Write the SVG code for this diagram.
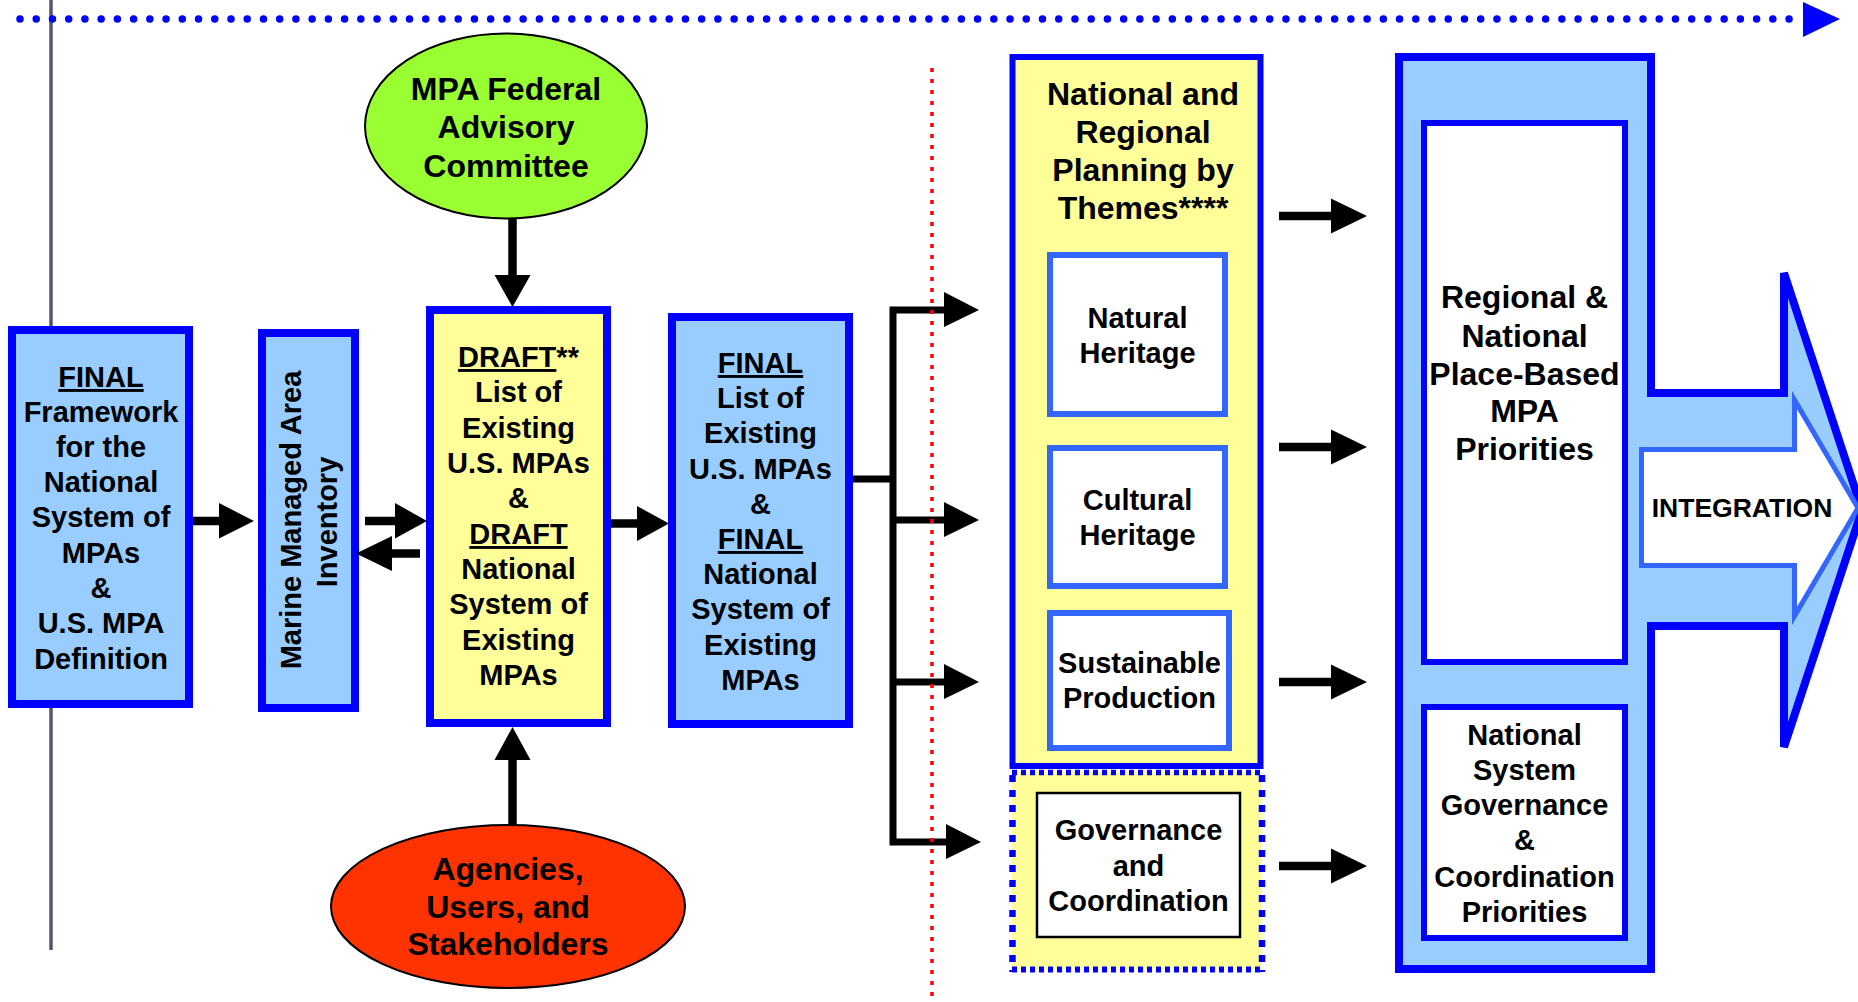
<svg xmlns="http://www.w3.org/2000/svg" width="1858" height="1002" viewBox="0 0 1858 1002">
<style>
text{font-family:"Liberation Sans",Arial,sans-serif;font-weight:bold;fill:#000;text-anchor:middle}
.t29{font-size:29px}
.t32{font-size:32px}
.box{stroke:#0000ff;stroke-width:8}
.lb{fill:#99ccff}
.yl{fill:#ffff99}
.inner{fill:#fff;stroke:#3366ff;stroke-width:6}
.inner2{fill:#fff;stroke:#0000ff;stroke-width:6}
.shaft{stroke:#000;stroke-width:8.5;fill:none}
.head{fill:#000}
</style>
<rect width="1858" height="1002" fill="#fff"/>

<!-- timeline and guides -->
<g id="timeline">
<line x1="51" y1="0" x2="51" y2="950" stroke="#555570" stroke-width="3.5"/>
<line x1="20" y1="19" x2="1792" y2="19" stroke="#0000ff" stroke-width="7.5" stroke-linecap="round" stroke-dasharray="0 16.23"/>
<polygon points="1803,2 1840,19 1803,37" fill="#0000ff"/>
</g>

<!-- Node: FINAL Framework -->
<g id="framework">
<rect class="box lb" x="12" y="330" width="177" height="374"/>
<text class="t29" x="101" y="387"><tspan text-decoration="underline">FINAL</tspan></text>
<text class="t29" x="101" y="422">Framework</text>
<text class="t29" x="101" y="457">for the</text>
<text class="t29" x="101" y="492">National</text>
<text class="t29" x="101" y="527">System of</text>
<text class="t29" x="101" y="563">MPAs</text>
<text class="t29" x="101" y="598">&amp;</text>
<text class="t29" x="101" y="633">U.S. MPA</text>
<text class="t29" x="101" y="669">Definition</text>
</g>

<!-- Node: Marine Managed Area Inventory -->
<g id="inventory">
<rect class="box lb" x="262" y="333" width="93" height="375"/>
<text class="t29" transform="translate(301,520) rotate(-90)">Marine Managed Area</text>
<text class="t29" transform="translate(337,522) rotate(-90)">Inventory</text>
</g>

<!-- Node: DRAFT list -->
<g id="draft-list">
<rect class="box yl" x="430" y="310" width="177" height="413"/>
<text class="t29" x="518.5" y="367"><tspan text-decoration="underline">DRAFT</tspan>**</text>
<text class="t29" x="518.5" y="402">List of</text>
<text class="t29" x="518.5" y="438">Existing</text>
<text class="t29" x="518.5" y="473">U.S. MPAs</text>
<text class="t29" x="518.5" y="508">&amp;</text>
<text class="t29" x="518.5" y="544"><tspan text-decoration="underline">DRAFT</tspan></text>
<text class="t29" x="518.5" y="579">National</text>
<text class="t29" x="518.5" y="614">System of</text>
<text class="t29" x="518.5" y="650">Existing</text>
<text class="t29" x="518.5" y="685">MPAs</text>
</g>

<!-- Node: FINAL list -->
<g id="final-list">
<rect class="box lb" x="672" y="317" width="177" height="407"/>
<text class="t29" x="760.5" y="373"><tspan text-decoration="underline">FINAL</tspan></text>
<text class="t29" x="760.5" y="408">List of</text>
<text class="t29" x="760.5" y="443">Existing</text>
<text class="t29" x="760.5" y="478.5">U.S. MPAs</text>
<text class="t29" x="760.5" y="514">&amp;</text>
<text class="t29" x="760.5" y="549"><tspan text-decoration="underline">FINAL</tspan></text>
<text class="t29" x="760.5" y="584">National</text>
<text class="t29" x="760.5" y="619">System of</text>
<text class="t29" x="760.5" y="654.5">Existing</text>
<text class="t29" x="760.5" y="690">MPAs</text>
</g>

<!-- Node: MPA Federal Advisory Committee -->
<g id="advisory">
<ellipse cx="506" cy="126" rx="141" ry="92.5" fill="#99ff33" stroke="#000" stroke-width="2"/>
<text class="t32" x="506" y="100">MPA Federal</text>
<text class="t32" x="506" y="138">Advisory</text>
<text class="t32" x="506" y="177">Committee</text>
</g>

<!-- Node: Agencies, Users, and Stakeholders -->
<g id="stakeholders">
<ellipse cx="508" cy="906.5" rx="177" ry="81.5" fill="#ff3300" stroke="#000" stroke-width="2"/>
<text class="t32" x="508" y="880">Agencies,</text>
<text class="t32" x="508" y="918">Users, and</text>
<text class="t32" x="508" y="955">Stakeholders</text>
</g>

<!-- Node: National and Regional Planning by Themes -->
<g id="themes">
<rect x="1012.5" y="57" width="248" height="709" fill="#ffff99" stroke="#0000ff" stroke-width="6"/>
<rect x="1012" y="772" width="250" height="197" fill="#ffff99"/>
<line x1="1012" y1="772.5" x2="1262" y2="772.5" stroke="#0000ff" stroke-width="5.5" stroke-dasharray="5 4"/>
<line x1="1012" y1="969.5" x2="1262" y2="969.5" stroke="#0000ff" stroke-width="6" stroke-dasharray="5 4"/>
<line x1="1012.5" y1="775" x2="1012.5" y2="972" stroke="#0000ff" stroke-width="6.5" stroke-dasharray="7 8"/>
<line x1="1262" y1="775" x2="1262" y2="972" stroke="#0000ff" stroke-width="6.5" stroke-dasharray="7 8"/>
<text class="t32" x="1143" y="104.5">National and</text>
<text class="t32" x="1143" y="142.5">Regional</text>
<text class="t32" x="1143" y="180.5">Planning by</text>
<text class="t32" x="1143" y="218.5">Themes****</text>
</g>
<g id="natural-heritage">
<rect class="inner" x="1050" y="255" width="175" height="159"/>
<text class="t29" x="1137.5" y="328">Natural</text>
<text class="t29" x="1137.5" y="363">Heritage</text>
</g>
<g id="cultural-heritage">
<rect class="inner" x="1050" y="448" width="175" height="138"/>
<text class="t29" x="1137.5" y="510">Cultural</text>
<text class="t29" x="1137.5" y="545">Heritage</text>
</g>
<g id="sustainable-production">
<rect class="inner" x="1050" y="613" width="179" height="135"/>
<text class="t29" x="1139.5" y="673">Sustainable</text>
<text class="t29" x="1139.5" y="708">Production</text>
</g>
<g id="governance">
<rect x="1037" y="793" width="203" height="144" fill="#fff" stroke="#000" stroke-width="2.5"/>
<text class="t29" x="1138.5" y="840">Governance</text>
<text class="t29" x="1138.5" y="876">and</text>
<text class="t29" x="1138.5" y="911">Coordination</text>
</g>

<!-- Node: Priorities with integration arrow -->
<g id="priorities">
<path d="M1399,57 H1651 V393 H1784 V273 L1862,510 L1784,747 V626 H1651 V969 H1399 Z" fill="#99ccff" stroke="#0000ff" stroke-width="8"/>
</g>
<g id="integration">
<path d="M1641.5,449.5 H1794.5 V400 L1858,508 L1794.5,616 V565.5 H1641.5 Z" fill="#fff" stroke="#3366ff" stroke-width="5"/>
<text x="1742" y="517" style="font-size:26.5px">INTEGRATION</text>
</g>
<g id="place-based">
<rect class="inner2" x="1424" y="123" width="201" height="539"/>
<text class="t32" x="1524.5" y="308">Regional &amp;</text>
<text class="t32" x="1524.5" y="347">National</text>
<text class="t32" x="1524.5" y="385">Place-Based</text>
<text class="t32" x="1524.5" y="422">MPA</text>
<text class="t32" x="1524.5" y="460">Priorities</text>
</g>
<g id="governance-priorities">
<rect class="inner2" x="1424" y="707" width="201" height="231"/>
<text class="t29" x="1524.5" y="745">National</text>
<text class="t29" x="1524.5" y="780">System</text>
<text class="t29" x="1524.5" y="815">Governance</text>
<text class="t29" x="1524.5" y="850">&amp;</text>
<text class="t29" x="1524.5" y="887">Coordination</text>
<text class="t29" x="1524.5" y="922">Priorities</text>
</g>

<!-- Connectors -->
<g id="connectors">
<line class="shaft" x1="193" y1="521" x2="220" y2="521"/>
<polygon class="head" points="219,503 254,521 219,538.5"/>
<line class="shaft" x1="365" y1="521" x2="396" y2="521"/>
<polygon class="head" points="395,503 427,521 395,538.5"/>
<line class="shaft" x1="420" y1="553.5" x2="391" y2="553.5"/>
<polygon class="head" points="392,536 356,553.5 392,571"/>
<line class="shaft" x1="611" y1="523.5" x2="638" y2="523.5"/>
<polygon class="head" points="637,506 669,523.5 637,541"/>
<line class="shaft" x1="512.5" y1="218" x2="512.5" y2="276" stroke-width="7.5"/>
<polygon class="head" points="494.5,275 512.5,307 530.5,275"/>
<line class="shaft" x1="512.5" y1="825" x2="512.5" y2="759" stroke-width="7.5"/>
<polygon class="head" points="494.5,760 512.5,727 530.5,760"/>
<path d="M853,479 H893 M893,306.5 V845.5 M889.5,310 H945 M893,520 H945 M893,682 H945 M889.5,842 H947" stroke="#000" stroke-width="7" fill="none"/>
<polygon class="head" points="944,292 979,310 944,327"/>
<polygon class="head" points="944,502 979,520 944,537"/>
<polygon class="head" points="944,664 979,682 944,699"/>
<polygon class="head" points="946,824 981,842 946,859"/>
<line class="shaft" x1="1279" y1="216" x2="1332" y2="216"/>
<polygon class="head" points="1331,198.5 1367,216 1331,233.5"/>
<line class="shaft" x1="1279" y1="447" x2="1332" y2="447"/>
<polygon class="head" points="1331,429.5 1367,447 1331,464.5"/>
<line class="shaft" x1="1279" y1="682" x2="1332" y2="682"/>
<polygon class="head" points="1331,664.5 1367,682 1331,699.5"/>
<line class="shaft" x1="1279" y1="866" x2="1332" y2="866"/>
<polygon class="head" points="1331,848.5 1367,866 1331,883.5"/>
</g>

<!-- phase divider -->
<g id="divider">
<line x1="932" y1="68" x2="932" y2="1002" stroke="#ff0000" stroke-width="3.5" stroke-dasharray="4 7"/>
</g>
</svg>
